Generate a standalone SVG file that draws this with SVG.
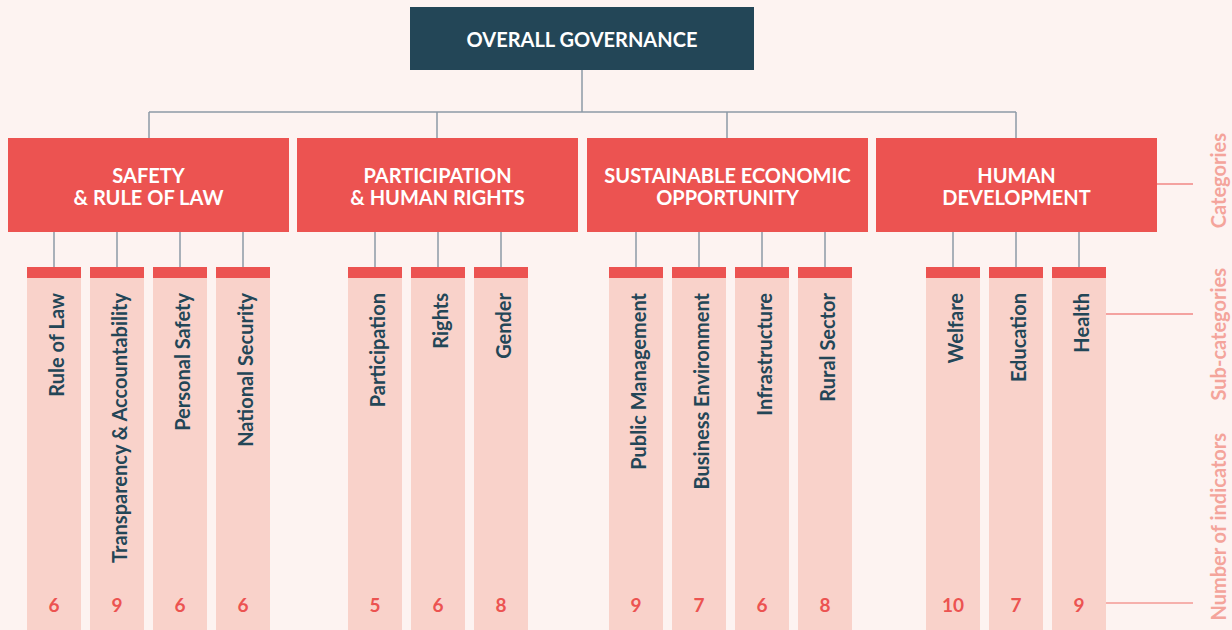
<svg xmlns="http://www.w3.org/2000/svg" width="1232" height="630" viewBox="0 0 1232 630">
<style>
.bg{fill:#fdf3f1}
.top{fill:#234657}
.cat{fill:#ec5351}
.col{fill:#f9d2ca}
.cap{fill:#ec5351}
.conn{stroke:#8d9aa6;stroke-width:1.5;fill:none}
.t{font-family:Lato,"Open Sans",sans-serif;font-weight:700;text-anchor:middle}
.tw{fill:#ffffff;font-size:20px}
.lbl{font-family:Lato,"Open Sans",sans-serif;font-weight:700;font-size:20px;fill:#234657;text-anchor:end}
.num{font-family:Lato,"Open Sans",sans-serif;font-weight:700;font-size:19px;fill:#ec5351;text-anchor:middle}
.side{font-family:Lato,"Open Sans",sans-serif;font-weight:700;font-size:20px;fill:#f4a49b;text-anchor:end}
.guide{stroke:#ec5351;stroke-width:1.2}
.guide2{stroke:#f39a94;stroke-width:1.5}
</style>
<rect class="bg" x="0" y="0" width="1232" height="630"/>
<g id="connectors">
<path class="conn" d="M582 70V112M149 112H1016M149 112V138M437 112V138M727 112V138M1016 112V138"/>
<path class="conn" d="M54 232V267M117 232V267M180 232V267M243 232V267M375 232V267M438 232V267M501 232V267M636 232V267M699 232V267M762 232V267M825 232V267M953 232V267M1016 232V267M1079 232V267"/>
</g>
<g id="overall">
<rect class="top" x="410" y="7" width="344" height="63"/>
<text class="t tw" x="582" y="47">OVERALL GOVERNANCE</text>
</g>
<g id="cat-safety">
<rect class="cat" x="8" y="138" width="281" height="94"/>
<text class="t tw" x="148.5" y="183">SAFETY</text>
<text class="t tw" x="148.5" y="205">&amp; RULE OF LAW</text>
</g>
<g id="cat-participation">
<rect class="cat" x="297" y="138" width="281" height="94"/>
<text class="t tw" x="437.5" y="183">PARTICIPATION</text>
<text class="t tw" x="437.5" y="205">&amp; HUMAN RIGHTS</text>
</g>
<g id="cat-economic">
<rect class="cat" x="587" y="138" width="281" height="94"/>
<text class="t tw" x="727.5" y="183">SUSTAINABLE ECONOMIC</text>
<text class="t tw" x="727.5" y="205">OPPORTUNITY</text>
</g>
<g id="cat-human">
<rect class="cat" x="876" y="138" width="281" height="94"/>
<text class="t tw" x="1016.5" y="183">HUMAN</text>
<text class="t tw" x="1016.5" y="205">DEVELOPMENT</text>
</g>
<g id="sub-ruleoflaw"><rect class="col" x="27" y="267" width="54" height="363"/><rect class="cap" x="27" y="267" width="54" height="11"/><text class="lbl" transform="translate(64 293) rotate(-90)">Rule of Law</text><text class="num" x="54" y="612">6</text></g>
<g id="sub-transparency"><rect class="col" x="90" y="267" width="54" height="363"/><rect class="cap" x="90" y="267" width="54" height="11"/><text class="lbl" transform="translate(127 293) rotate(-90)">Transparency &amp; Accountability</text><text class="num" x="117" y="612">9</text></g>
<g id="sub-personal"><rect class="col" x="153" y="267" width="54" height="363"/><rect class="cap" x="153" y="267" width="54" height="11"/><text class="lbl" transform="translate(190 293) rotate(-90)">Personal Safety</text><text class="num" x="180" y="612">6</text></g>
<g id="sub-national"><rect class="col" x="216" y="267" width="54" height="363"/><rect class="cap" x="216" y="267" width="54" height="11"/><text class="lbl" transform="translate(253 293) rotate(-90)">National Security</text><text class="num" x="243" y="612">6</text></g>
<g id="sub-participation"><rect class="col" x="348" y="267" width="54" height="363"/><rect class="cap" x="348" y="267" width="54" height="11"/><text class="lbl" transform="translate(385 293) rotate(-90)">Participation</text><text class="num" x="375" y="612">5</text></g>
<g id="sub-rights"><rect class="col" x="411" y="267" width="54" height="363"/><rect class="cap" x="411" y="267" width="54" height="11"/><text class="lbl" transform="translate(448 293) rotate(-90)">Rights</text><text class="num" x="438" y="612">6</text></g>
<g id="sub-gender"><rect class="col" x="474" y="267" width="54" height="363"/><rect class="cap" x="474" y="267" width="54" height="11"/><text class="lbl" transform="translate(511 293) rotate(-90)">Gender</text><text class="num" x="501" y="612">8</text></g>
<g id="sub-public"><rect class="col" x="609" y="267" width="54" height="363"/><rect class="cap" x="609" y="267" width="54" height="11"/><text class="lbl" transform="translate(646 293) rotate(-90)">Public Management</text><text class="num" x="636" y="612">9</text></g>
<g id="sub-business"><rect class="col" x="672" y="267" width="54" height="363"/><rect class="cap" x="672" y="267" width="54" height="11"/><text class="lbl" transform="translate(709 293) rotate(-90)">Business Environment</text><text class="num" x="699" y="612">7</text></g>
<g id="sub-infrastructure"><rect class="col" x="735" y="267" width="54" height="363"/><rect class="cap" x="735" y="267" width="54" height="11"/><text class="lbl" transform="translate(772 293) rotate(-90)">Infrastructure</text><text class="num" x="762" y="612">6</text></g>
<g id="sub-rural"><rect class="col" x="798" y="267" width="54" height="363"/><rect class="cap" x="798" y="267" width="54" height="11"/><text class="lbl" transform="translate(835 293) rotate(-90)">Rural Sector</text><text class="num" x="825" y="612">8</text></g>
<g id="sub-welfare"><rect class="col" x="926" y="267" width="54" height="363"/><rect class="cap" x="926" y="267" width="54" height="11"/><text class="lbl" transform="translate(963 293) rotate(-90)">Welfare</text><text class="num" x="953" y="612">10</text></g>
<g id="sub-education"><rect class="col" x="989" y="267" width="54" height="363"/><rect class="cap" x="989" y="267" width="54" height="11"/><text class="lbl" transform="translate(1026 293) rotate(-90)">Education</text><text class="num" x="1016" y="612">7</text></g>
<g id="sub-health"><rect class="col" x="1052" y="267" width="54" height="363"/><rect class="cap" x="1052" y="267" width="54" height="11"/><text class="lbl" transform="translate(1089 293) rotate(-90)">Health</text><text class="num" x="1079" y="612">9</text></g>
<g id="legend">
<line class="guide" x1="1157" y1="184" x2="1193" y2="184"/>
<line class="guide" x1="1106" y1="314" x2="1193" y2="314"/>
<line class="guide2" x1="1106" y1="603" x2="1193" y2="603"/>
<text class="side" transform="translate(1226 133) rotate(-90)">Categories</text>
<text class="side" transform="translate(1226 268) rotate(-90)">Sub-categories</text>
<text class="side" transform="translate(1226 433) rotate(-90)">Number of indicators</text>
</g>
</svg>
